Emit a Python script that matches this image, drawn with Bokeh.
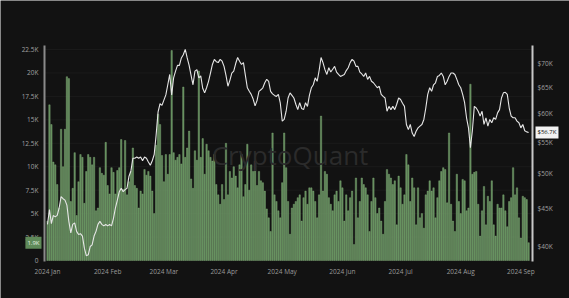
import math
import pandas as pd
from bokeh.plotting import figure
from bokeh.models import (Range1d, LinearAxis, LogScale, FixedTicker, CustomJSTickFormatter,
                          PrintfTickFormatter, DatetimeTickFormatter, Label)
from bokeh.embed import file_html
from bokeh.resources import INLINE

# ---- data ----
start_date = "2024-01-01"
volume_k = [
    4.2, 16.6, 14.5, 10.5, 10.2, 8.1, 5.6, 14.0, 10.0, 14.0,
    19.6, 19.4, 6.3, 7.7, 11.5, 4.8, 8.4, 11.3, 11.0, 6.1,
    9.5, 11.3, 11.0, 10.2, 11.0, 5.3, 5.6, 9.9, 9.3, 9.1,
    12.6, 8.0, 7.1, 9.9, 9.4, 7.1, 9.6, 9.9, 12.9, 7.6,
    12.8, 7.0, 8.4, 9.5, 12.0, 8.0, 7.7, 5.6, 7.4, 7.1,
    9.7, 9.1, 9.5, 9.0, 7.4, 5.0, 12.3, 15.6, 14.5, 11.2,
    8.4, 11.3, 9.2, 11.3, 22.4, 11.5, 10.7, 11.0, 11.3, 10.3,
    18.5, 11.0, 12.0, 13.8, 8.7, 7.7, 11.7, 10.7, 20.2, 11.0,
    13.0, 9.2, 12.4, 11.7, 11.0, 10.6, 11.3, 8.1, 7.0, 6.0,
    8.1, 6.5, 12.5, 7.0, 9.5, 8.8, 10.0, 9.0, 7.75, 10.2,
    11.3, 6.8, 8.1, 12.4, 7.5, 10.2, 9.5, 10.6, 8.0, 9.5,
    8.5, 8.3, 7.4, 5.5, 4.55, 3.1, 13.6, 7.0, 6.3, 5.3,
    4.55, 8.3, 13.6, 9.9, 6.3, 2.8, 5.6, 6.0, 6.3, 6.7,
    7.0, 4.2, 6.7, 7.4, 6.0, 7.75, 7.75, 7.4, 6.3, 4.55,
    7.0, 15.4, 7.4, 9.5, 9.2, 6.7, 6.0, 5.3, 7.0, 7.4,
    6.3, 8.5, 7.75, 4.2, 7.0, 5.3, 6.7, 7.4, 1.7, 8.8,
    4.55, 6.3, 8.8, 8.1, 7.75, 7.0, 3.1, 6.3, 8.8, 6.7,
    5.0, 5.6, 4.2, 2.8, 6.3, 9.7, 9.2, 8.8, 8.1, 8.5,
    3.8, 9.0, 7.75, 6.0, 7.0, 11.3, 10.2, 6.3, 8.8, 7.75,
    3.8, 7.75, 4.55, 5.0, 3.45, 7.0, 7.4, 8.5, 7.4, 7.75,
    4.55, 6.7, 8.5, 9.5, 9.9, 9.7, 6.15, 13.6, 6.0, 4.2,
    3.1, 9.2, 6.3, 5.0, 8.65, 8.5, 5.3, 5.6, 18.8, 9.2,
    9.4, 9.5, 6.0, 2.6, 5.3, 7.9, 3.8, 6.85, 6.3, 8.5,
    3.8, 2.6, 6.0, 5.6, 5.6, 7.0, 5.3, 3.6, 6.3, 6.7,
    9.9, 7.0, 7.75, 4.55, 2.4, 6.85, 6.7, 6.5, 1.9,
]
price_k = [
    42.8, 44.8, 42.9, 44.0, 43.8, 44.0, 45.0, 46.6, 46.3, 46.1,
    45.4, 43.2, 41.7, 42.8, 43.0, 41.9, 41.5, 41.6, 41.3, 39.8,
    38.9, 39.0, 40.0, 40.2, 41.3, 41.9, 42.8, 43.2, 42.8, 42.6,
    42.8, 42.6, 42.8, 42.6, 43.6, 45.0, 46.1, 47.3, 47.8, 47.3,
    47.6, 47.8, 49.6, 50.4, 52.4, 52.4, 52.6, 52.4, 52.6, 52.0,
    52.6, 52.4, 51.8, 51.3, 52.0, 53.0, 56.3, 60.4, 61.9, 61.6,
    62.6, 63.6, 65.6, 67.7, 63.6, 67.0, 68.4, 69.6, 69.6, 71.2,
    71.9, 73.1, 71.2, 69.6, 67.5, 65.6, 68.4, 68.7, 67.0, 67.4,
    64.9, 64.0, 65.0, 66.3, 68.0, 69.8, 70.9, 70.4, 70.2, 70.9,
    70.5, 69.4, 67.5, 65.3, 66.5, 68.0, 68.4, 70.0, 71.3, 70.5,
    69.8, 70.2, 67.5, 65.0, 64.3, 63.7, 62.8, 61.5, 62.5, 64.3,
    64.6, 65.0, 66.0, 66.7, 66.3, 64.3, 63.8, 63.5, 63.3, 63.7,
    62.0, 58.7, 59.0, 60.5, 63.0, 64.0, 63.5, 63.0, 61.8, 60.8,
    62.1, 61.0, 60.8, 62.1, 61.4, 63.5, 65.0, 65.6, 67.0, 66.3,
    68.5, 71.3, 70.2, 68.7, 67.7, 69.1, 68.2, 68.8, 69.4, 68.2,
    67.7, 67.3, 67.5, 67.7, 68.5, 69.1, 70.2, 70.9, 70.5, 69.4,
    69.4, 68.2, 67.8, 67.3, 68.0, 66.7, 67.3, 66.3, 66.0, 65.5,
    65.0, 65.3, 63.7, 63.3, 63.0, 60.5, 61.4, 60.8, 61.4, 60.8,
    61.8, 63.0, 62.7, 62.0, 61.4, 58.1, 57.2, 58.1, 56.6, 56.0,
    56.9, 57.5, 57.8, 58.1, 59.0, 61.1, 63.7, 65.0, 64.3, 65.6,
    66.0, 67.3, 67.5, 68.0, 67.3, 65.6, 66.3, 67.3, 68.0, 68.0,
    67.7, 66.7, 65.6, 65.0, 63.7, 62.1, 59.3, 57.5, 54.1, 57.0,
    61.4, 61.1, 60.5, 59.6, 60.5, 58.1, 59.3, 57.8, 59.0, 58.4,
    59.3, 59.0, 60.2, 60.8, 63.0, 64.0, 64.1, 63.7, 61.1, 59.6,
    59.3, 59.3, 58.7, 58.4, 57.5, 58.1, 57.0, 56.8, 56.7,
]
volume_ticks = [0, 2.5, 5, 7.5, 10, 12.5, 15, 17.5, 20, 22.5]
price_ticks = [40, 45, 50, 55, 60, 65, 70]
month_ticks = pd.date_range(start_date, periods=9, freq="MS")
watermark = "CryptoQuant"

dates = pd.date_range(start_date, periods=len(volume_k), freq="D")
DAY = 86400000.0


def ms(ts):
    return ts.value / 1e6


t0 = ms(dates[0])
W, H = 569, 298
# plot area, in pixels of the page: x 44..532, y 45..261
PAD_L, PAD_R, PAD_T, PAD_B = 44, 37, 45, 37
PX_PER_DAY = 1.94
area_left = t0 - 1.55 * DAY
area_right = t0 + 250 * DAY
vol_lo, vol_hi = -0.107, 22.93
price_lo, price_hi = 38.21, 73.97

# the frame covers the whole page; the axes are pinned to the plot area
plot_h = H - PAD_T - PAD_B
frame_left = area_left - (PAD_L / PX_PER_DAY) * DAY
frame_right = area_right + (PAD_R / PX_PER_DAY) * DAY
vpp = (vol_hi - vol_lo) / plot_h
lpp = (math.log(price_hi) - math.log(price_lo)) / plot_h

BG = "#121212"
FONT = "Open Sans"

p = figure(width=W, height=H, x_axis_type="datetime",
           x_range=Range1d(frame_left, frame_right),
           y_range=Range1d(vol_lo - PAD_B * vpp, vol_hi + PAD_T * vpp),
           output_backend="svg", toolbar_location=None,
           min_border_left=0, min_border_right=0, min_border_top=0, min_border_bottom=0,
           background_fill_color=BG, border_fill_color=BG, outline_line_color=None)
p.extra_y_ranges = {"price": Range1d(math.exp(math.log(price_lo) - PAD_B * lpp),
                                     math.exp(math.log(price_hi) + PAD_T * lpp))}
p.extra_y_scales = {"price": LogScale()}

p.xgrid.grid_line_color = None
p.ygrid.grid_line_color = None

# faint horizontal guides at the volume ticks, inside the plot area only
n = len(volume_ticks)
p.segment(x0=[area_left] * n, x1=[area_right] * n, y0=volume_ticks, y1=volume_ticks,
          line_color="#1b1b1b", line_width=1)

# bars
p.vbar(x=dates, top=volume_k, bottom=0, width=0.72 * DAY,
       fill_color="#5f8a59", line_color="#88b17f", line_width=0.4)

# price line
p.line(x=dates, y=price_k, y_range_name="price", line_color="#e6e6e6", line_width=1.1)

# x axis, pinned to the bottom of the plot area
xa = p.xaxis[0]
xa.fixed_location = vol_lo
xa.ticker = FixedTicker(ticks=[ms(t) for t in month_ticks])
xa.formatter = DatetimeTickFormatter(months="%Y %b", days="%Y %b", hours="%Y %b")
xa.axis_line_color = None
xa.major_tick_line_color = None
xa.minor_tick_line_color = None
xa.major_tick_out = 0
xa.major_tick_in = 0
xa.major_label_text_color = "#9a9a9a"
xa.major_label_text_font_size = "6.5px"
xa.major_label_text_font = FONT
xa.major_label_standoff = 5

# left axis (volume)
ya = p.yaxis[0]
ya.fixed_location = area_left
ya.bounds = (vol_lo, vol_hi)
ya.ticker = FixedTicker(ticks=volume_ticks)
ya.formatter = CustomJSTickFormatter(code="return tick == 0 ? '0' : tick + 'K';")
ya.axis_line_color = "#8a8a8a"
ya.axis_line_width = 2
ya.major_tick_line_color = None
ya.minor_tick_line_color = None
ya.major_tick_out = 0
ya.major_tick_in = 0
ya.major_label_text_color = "#a0a0a0"
ya.major_label_text_font_size = "6.5px"
ya.major_label_text_font = FONT
ya.major_label_standoff = 6

# right axis (price, log scale)
ra = LinearAxis(y_range_name="price", ticker=FixedTicker(ticks=price_ticks),
                formatter=PrintfTickFormatter(format="$%dK"))
ra.fixed_location = area_right
ra.bounds = (price_lo, price_hi)
ra.axis_line_color = "#c8c8c8"
ra.axis_line_width = 2
ra.major_tick_line_color = None
ra.minor_tick_line_color = None
ra.major_tick_out = 0
ra.major_tick_in = 0
ra.major_label_text_color = "#a0a0a0"
ra.major_label_text_font_size = "6.5px"
ra.major_label_text_font = FONT
ra.major_label_standoff = 5
p.add_layout(ra, "right")

# watermark
p.add_layout(Label(x=t0 + 125 * DAY, y=11.2, text=watermark, text_align="center",
                   text_baseline="middle", text_font=FONT, text_font_size="26px",
                   text_color="#2b2b2b"))

# last-value tags
p.add_layout(Label(x=area_left, y=volume_k[-1], x_offset=-3, text="%.1fK" % volume_k[-1],
                   text_align="right", text_baseline="middle", text_font=FONT,
                   text_font_size="6px", text_color="#e6f2e2",
                   background_fill_color="#5f8a59", padding=2))
p.add_layout(Label(x=area_right, y=price_k[-1], y_range_name="price", x_offset=3,
                   text="$%.1fK" % price_k[-1], text_align="left", text_baseline="middle",
                   text_font=FONT, text_font_size="6px", text_color="#111111",
                   background_fill_color="#f2f2f2", padding=2))

open("out.html", "w").write(file_html(p, INLINE))
